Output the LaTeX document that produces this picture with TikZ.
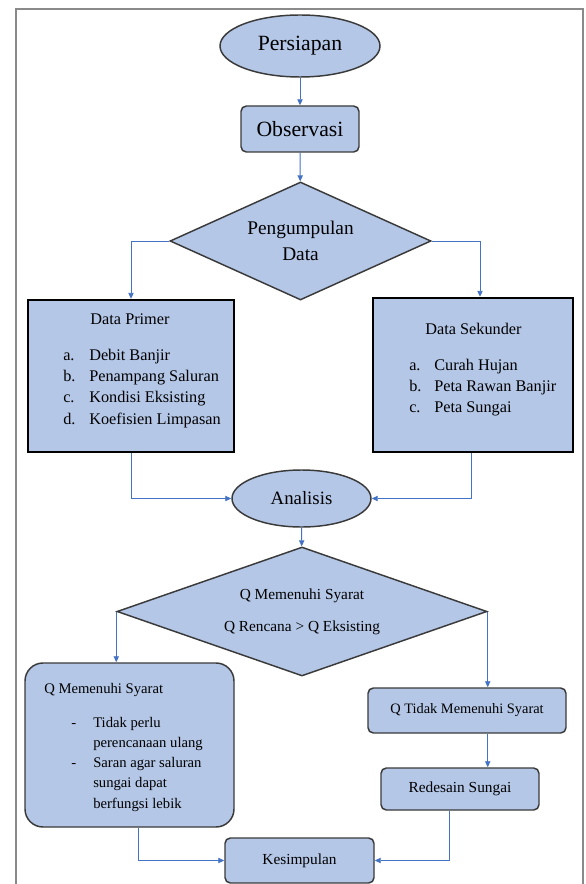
\documentclass[tikz,border=0pt]{standalone}
\usepackage{fontspec}
\setmainfont{Liberation Serif}
\usetikzlibrary{shapes.geometric, arrows.meta, calc, positioning}

\definecolor{boxfill}{HTML}{B4C7E7}
\definecolor{arrowblue}{HTML}{4472C4}
\definecolor{edgegray}{HTML}{3A3A3A}
\definecolor{framegray}{HTML}{8A8A8A}

\tikzset{
    shapebox/.style={draw=edgegray, line width=1.1pt, fill=boxfill, inner sep=0pt},
    oval/.style={shapebox, ellipse},
    proc/.style={shapebox, rectangle, rounded corners=4pt},
    datarect/.style={shapebox, rectangle, draw=black, line width=1.8pt},
    decide/.style={shapebox, diamond, align=center},
    flow/.style={draw=arrowblue, line width=0.7pt, -{Triangle[length=4.5pt, width=4pt]}},
}

\begin{document}
\begin{tikzpicture}[x=0.75pt, y=-0.75pt]
    \useasboundingbox (0,0) rectangle (585,884);
    \draw[framegray, line width=1.5pt] (15.5,884) -- (15.5,9) -- (583,9) -- (583,884);

    \node[oval, minimum width=120pt, minimum height=46.5pt, font=\fontsize{16.3}{19}\selectfont] (persiapan) at (300,46) {Persiapan};
    \node[proc, minimum width=88.5pt, minimum height=34.5pt, font=\fontsize{16.3}{19}\selectfont] (observasi) at (300,129) {Observasi};
    \node[decide, aspect=2.21, minimum width=195.75pt, minimum height=88.5pt, font=\fontsize{14.5}{19}\selectfont] (pengumpulan) at (300.5,241) {Pengumpulan\\Data};
    \node[datarect, minimum width=154.5pt, minimum height=114pt] (primer) at (131,376) {};
    \node[datarect, minimum width=150pt, minimum height=115.5pt] (sekunder) at (473,375) {};
    \node[oval, minimum width=104.25pt, minimum height=42.75pt, font=\fontsize{14.1}{17}\selectfont] (analisis) at (301.5,498.5) {Analisis};
    \node[decide, aspect=2.87, minimum width=277.5pt, minimum height=96.75pt, font=\fontsize{11.5}{24}\selectfont] (syarat) at (302,611.5) {Q Memenuhi Syarat\\Q Rencana > Q Eksisting};
    \node[proc, rounded corners=13.5pt, minimum width=156.75pt, minimum height=123pt] (memenuhi) at (129.5,745) {};
    \node[proc, minimum width=148.5pt, minimum height=33.75pt, font=\fontsize{10.8}{13}\selectfont] (tidak) at (467,710.5) {Q Tidak Memenuhi Syarat};
    \node[proc, minimum width=118.5pt, minimum height=31.5pt, font=\fontsize{11.5}{14}\selectfont] (redesain) at (460,789) {Redesain Sungai};
    \node[proc, minimum width=111.75pt, minimum height=33.75pt, font=\fontsize{11.5}{14}\selectfont] (kesimpulan) at (299.5,860.5) {Kesimpulan};

    \node[anchor=base, inner sep=0pt, font=\fontsize{12.2}{16}\selectfont] (primer-title) at (130,324) {Data Primer};
    \node[anchor=base west, inner sep=0pt, font=\fontsize{12.2}{16}\selectfont] (primer-list) at (63,360) {\begin{tabular}[t]{@{}p{19.5pt}@{}l@{}}
        a. & Debit Banjir\\ b. & Penampang Saluran\\ c. & Kondisi Eksisting\\ d. & Koefisien Limpasan
    \end{tabular}};
    \node[anchor=base, inner sep=0pt, font=\fontsize{12.2}{16}\selectfont] (sekunder-title) at (473.5,334) {Data Sekunder};
    \node[anchor=base west, inner sep=0pt, font=\fontsize{12.2}{16.1}\selectfont] (sekunder-list) at (409,370) {\begin{tabular}[t]{@{}p{18.75pt}@{}l@{}}
        a. & Curah Hujan\\ b. & Peta Rawan Banjir\\ c. & Peta Sungai
    \end{tabular}};
    \node[anchor=base west, inner sep=0pt, font=\fontsize{11}{15.2}\selectfont] (memenuhi-title) at (44,693) {Q Memenuhi Syarat};
    \node[anchor=base west, inner sep=0pt, font=\fontsize{11}{15.2}\selectfont] (memenuhi-list) at (71,727) {\begin{tabular}[t]{@{}p{16.5pt}@{}l@{}}
        - & Tidak perlu\\ & perencanaan ulang\\ - & Saran agar saluran\\ & sungai dapat\\ & berfungsi lebik
    \end{tabular}};

    \draw[flow] (persiapan) -- (observasi);
    \draw[flow] (observasi) -- (pengumpulan);
    \draw[flow] (pengumpulan.west) -| (primer.north);
    \draw[flow] (pengumpulan.east) -| ([xshift=5.25pt]sekunder.north);
    \draw[flow] (primer.south) |- (analisis.west);
    \draw[flow] ([xshift=-1.5pt]sekunder.south) |- (analisis.east);
    \draw[flow] (analisis) -- (syarat);
    \draw[flow] (syarat.west) -- (syarat.west |- memenuhi.north);
    \draw[flow] (syarat.east) -- (syarat.east |- tidak.north);
    \draw[flow] (syarat.east |- tidak.south) -- (syarat.east |- redesain.north);
    \draw[flow] ([xshift=7pt]memenuhi.south) |- (kesimpulan.west);
    \draw[flow] ([xshift=-8.25pt]redesain.south) |- (kesimpulan.east);
\end{tikzpicture}
\end{document}
